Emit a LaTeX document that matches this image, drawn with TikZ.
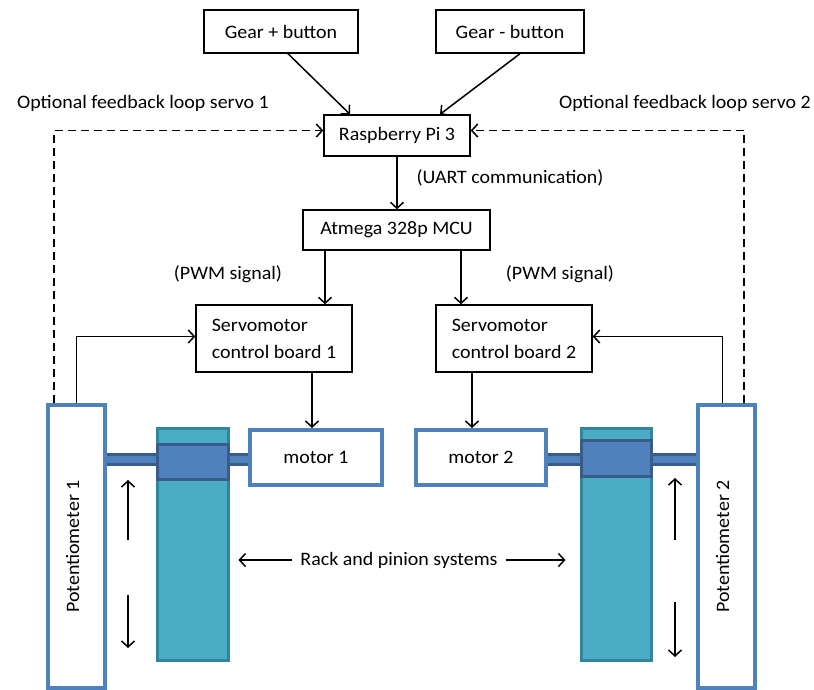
\documentclass[tikz,border=0pt]{standalone}
\usepackage{fontspec}
\setmainfont{Carlito}[FakeStretch=1.05]
\usepackage{tikz}
\usetikzlibrary{arrows.meta, positioning}
\definecolor{officeblue}{HTML}{4F81BD}
\definecolor{darkblue}{HTML}{385D8A}
\definecolor{rackteal}{HTML}{4BACC6}
\definecolor{darkteal}{HTML}{31859C}
\newcommand{\diafont}{\fontsize{19}{27}\selectfont}

\tikzset{
  box/.style={draw, line width=1.4pt, fill=white, font=\diafont, inner sep=0pt},
  srvbox/.style={box, align=left, minimum width=156pt, minimum height=67pt},
  bluebox/.style={draw=officeblue, line width=4pt, fill=white, inner sep=0pt, font=\diafont},
  rack/.style={draw=darkteal, line width=3pt, fill=rackteal, inner sep=0pt},
  pinion/.style={draw=darkblue, line width=3pt, fill=officeblue, inner sep=0pt},
  shaft/.style={draw=darkblue, line width=3pt, fill=officeblue},
  sig/.style={line width=1.5pt, -{Straight Barb[length=6pt,width=13pt]}},
  fb/.style={sig, dash pattern=on 8pt off 5pt},
  lbl/.style={font=\diafont, inner sep=0pt},
}

\begin{document}
\begin{tikzpicture}[x=1pt, y=-1pt]
  \useasboundingbox (0,0) rectangle (814,689);

  % --- Control chain ---
  \node[box, minimum width=154pt, minimum height=43pt] (gearp) at (281,31.5) {Gear + button};
  \node[box, minimum width=148pt, minimum height=43pt] (gearm) at (510,31.5) {Gear - button};
  \node[box, minimum width=146pt, minimum height=41pt] (rpi) at (397,135.5) {Raspberry Pi 3};
  \node[box, minimum width=187pt, minimum height=40pt] (mcu) at (396.5,230) {Atmega 328p MCU};
  \node[srvbox] (srv1) at (274,338.5) {Servomotor\\control board 1};
  \node[srvbox] (srv2) at (514,338.5) {Servomotor\\control board 2};

  \node[lbl] (fbtxt1) at (143,103) {Optional feedback loop servo 1};
  \node[lbl] (fbtxt2) at (685,103) {Optional feedback loop servo 2};
  \node[lbl] (uart) at (510,178) {(UART communication)};
  \node[lbl] (pwm1) at (228,274) {(PWM signal)};
  \node[lbl] (pwm2) at (560,274) {(PWM signal)};

  % --- Shafts (behind the racks) ---
  \path[shaft] (105,454.5) rectangle (250,464.5);
  \path[shaft] (546,454.5) rectangle (698,464.5);

  % --- Rack and pinion ---
  \node[rack, minimum width=71pt, minimum height=232pt] (rack1) at (192.5,544) {};
  \node[pinion, minimum width=71pt, minimum height=35pt] (pin1) at (192.5,461.5) {};
  \node[rack, minimum width=70pt, minimum height=232pt] (rack2) at (616,544) {};
  \node[pinion, minimum width=70pt, minimum height=36pt] (pin2) at (616,458) {};

  % --- Motors and potentiometers ---
  \node[bluebox, minimum width=132pt, minimum height=55pt] (motor1) at (316,457.5) {motor 1};
  \node[bluebox, minimum width=130pt, minimum height=55pt] (motor2) at (481,457.5) {motor 2};
  \node[bluebox, minimum width=57pt, minimum height=283pt] (pot1) at (76.5,546.5) {};
  \node[bluebox, minimum width=57pt, minimum height=283pt] (pot2) at (726.5,546.5) {};
  \node[lbl, rotate=90] (pot1txt) at ([xshift=-4pt]pot1) {Potentiometer 1};
  \node[lbl, rotate=90] (pot2txt) at ([xshift=-4pt]pot2) {Potentiometer 2};

  \node[lbl] (rps) at (399,560) {Rack and pinion systems};

  % --- Signal arrows ---
  \draw[sig] ([xshift=7pt]gearp.south) -- ([xshift=-47pt]rpi.north);
  \draw[sig] ([xshift=10pt]gearm.south) -- ([xshift=43pt]rpi.north);
  \draw[sig] (rpi.south) -- (rpi.south |- mcu.north);
  \draw[sig] ([xshift=-71.5pt]mcu.south) -- ([xshift=-71.5pt]mcu.south |- srv1.north);
  \draw[sig] ([xshift=64.5pt]mcu.south) -- ([xshift=64.5pt]mcu.south |- srv2.north);
  \draw[sig] ([xshift=38pt]srv1.south) -- ([xshift=38pt]srv1.south |- motor1.north);
  \draw[sig] ([xshift=-42pt]srv2.south) -- ([xshift=-42pt]srv2.south |- motor2.north);

  % --- Feedback ---
  \draw[sig] (pot1.north) |- ([yshift=2pt]srv1.west);
  \draw[sig] ([xshift=-4pt]pot2.north) |- ([yshift=2pt]srv2.east);
  \draw[fb] ([xshift=8pt]pot1.north west) |- ([yshift=5pt]rpi.west);
  \draw[fb] ([xshift=-13pt]pot2.north east) |- ([yshift=5pt]rpi.east);

  % --- Rack labels and motion ---
  \draw[sig, shorten <=8pt, shorten >=9pt] (rps.west) -- (rps.west -| rack1.east);
  \draw[sig, shorten <=8pt, shorten >=14pt] (rps.east) -- (rps.east -| rack2.west);
  \coordinate (up1s) at (128,540);  \coordinate (up1e) at (128,480);
  \coordinate (dn1s) at (128,595);  \coordinate (dn1e) at (128,648);
  \coordinate (up2s) at (675,540);  \coordinate (up2e) at (675,478);
  \coordinate (dn2s) at (675,602);  \coordinate (dn2e) at (675,657);
  \draw[sig] (up1s) -- (up1e);
  \draw[sig] (dn1s) -- (dn1e);
  \draw[sig] (up2s) -- (up2e);
  \draw[sig] (dn2s) -- (dn2e);
\end{tikzpicture}
\end{document}
